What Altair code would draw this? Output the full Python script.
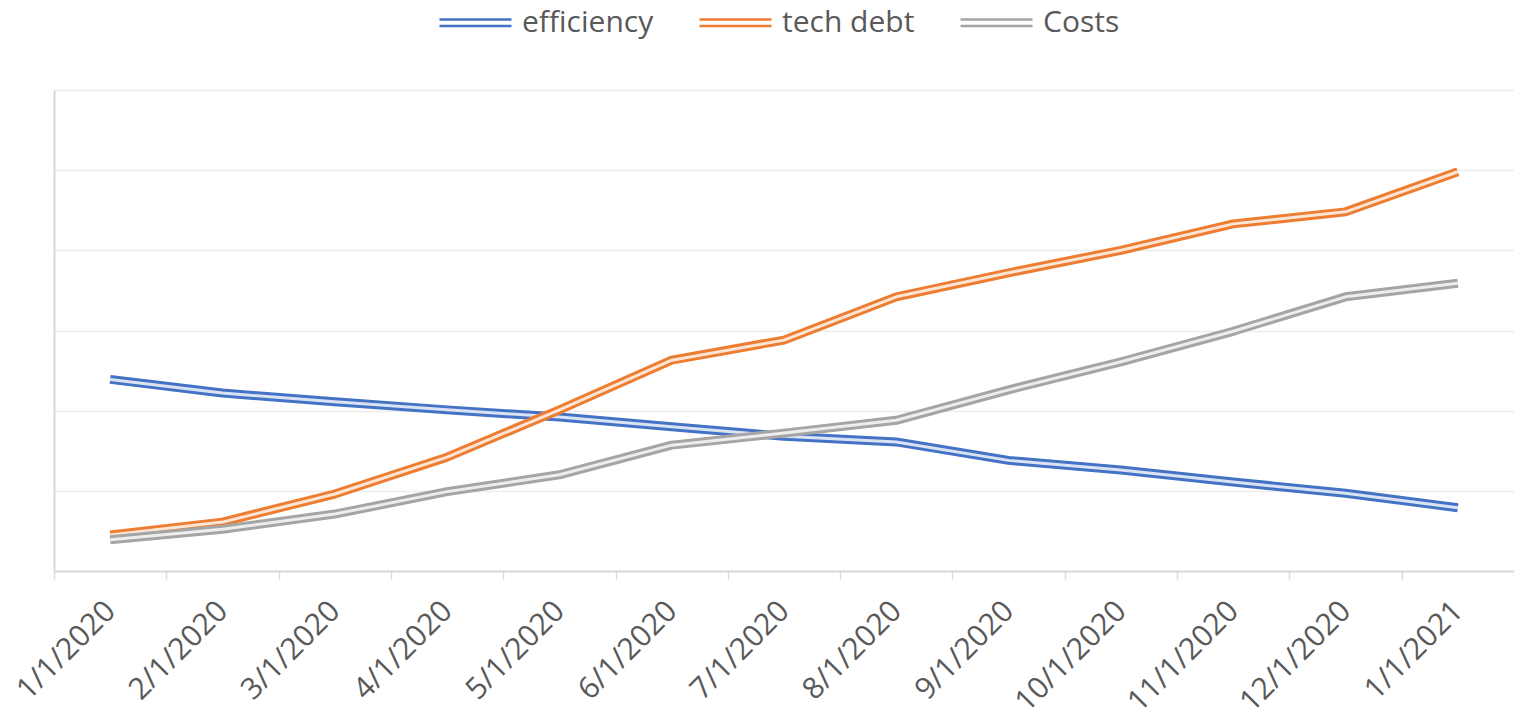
import altair as alt
import pandas as pd

dates = ["1/1/2020", "2/1/2020", "3/1/2020", "4/1/2020", "5/1/2020", "6/1/2020",
         "7/1/2020", "8/1/2020", "9/1/2020", "10/1/2020", "11/1/2020", "12/1/2020",
         "1/1/2021"]
efficiency = [23.9, 22.2, 21.1, 20.1, 19.2, 18.0, 16.8, 16.1, 13.8, 12.6, 11.1, 9.7, 7.9]
tech_debt = [4.5, 6.1, 9.6, 14.2, 20.1, 26.3, 28.8, 34.2, 37.2, 40.0, 43.3, 44.8, 49.8]
costs = [3.9, 5.2, 7.1, 9.9, 12.0, 15.7, 17.2, 18.8, 22.6, 26.1, 29.9, 34.2, 35.9]

series_names = ["efficiency", "tech debt", "Costs"]
series_values = [efficiency, tech_debt, costs]
series_colors = ["#4472C4", "#ED7D31", "#A5A5A5"]

rows = []
for name, vals in zip(series_names, series_values):
    for d, v in zip(dates, vals):
        rows.append({"date": d, "series": name, "value": v})
df = pd.DataFrame(rows)

FONT = "Open Sans"
TXT = "#595959"

x_enc = alt.X(
    "date:N",
    sort=dates,
    bandPosition=0.5,
    scale=alt.Scale(type="band", paddingInner=0, paddingOuter=0),
    axis=alt.Axis(
        title=None,
        labelAngle=-45,
        labelAlign="right",
        labelBaseline="middle",
        labelFont=FONT,
        labelFontSize=30,
        labelColor=TXT,
        labelPadding=27,
        labelOverlap=False,
        labelBound=False,
        labelFlush=False,
        tickBand="extent",
        tickSize=8,
        tickColor="#D9D9D9",
        tickWidth=1.5,
        domainColor="#D9D9D9",
        domainWidth=2,
        grid=False,
    ),
)
y_enc = alt.Y(
    "value:Q",
    scale=alt.Scale(domain=[0, 60], nice=False),
    axis=alt.Axis(
        title=None,
        values=[0, 10, 20, 30, 40, 50, 60],
        labels=False,
        ticks=False,
        grid=True,
        gridColor="#EDEDED",
        gridWidth=1.5,
        domainColor="#D9D9D9",
        domainWidth=2,
    ),
)

color_enc = alt.Color(
    "series:N",
    scale=alt.Scale(domain=series_names, range=series_colors),
    legend=alt.Legend(
        title=None,
        orient="none",
        direction="horizontal",
        legendX=384,
        legendY=-105,
        symbolType="M-1,-0.09H1M-1,0.09H1",
        symbolSize=5184,
        symbolStrokeWidth=2.4,
        labelFont=FONT,
        labelFontSize=30,
        labelColor=TXT,
        labelOffset=9,
        columnPadding=40,
    ),
)

base = alt.Chart(df)
layers = []
for name in series_names:
    sub = base.transform_filter(alt.datum.series == name)
    outer = sub.mark_line(strokeWidth=9, strokeCap="butt", strokeJoin="round").encode(
        x=x_enc, y=y_enc, color=color_enc
    )
    inner = sub.mark_line(strokeWidth=3, strokeCap="butt", strokeJoin="round",
                          color="white", opacity=0.8).encode(x=x_enc, y=y_enc)
    layers += [outer, inner]

chart = alt.layer(*layers).properties(
    width=1460,
    height=481,
    padding={"left": 46, "top": 82, "right": 0, "bottom": 152},
    autosize=alt.AutoSizeParams(type="none"),
).configure_view(stroke=None).configure(background="white")

chart.save("out.html", embed_options={"renderer": "svg", "actions": False})
